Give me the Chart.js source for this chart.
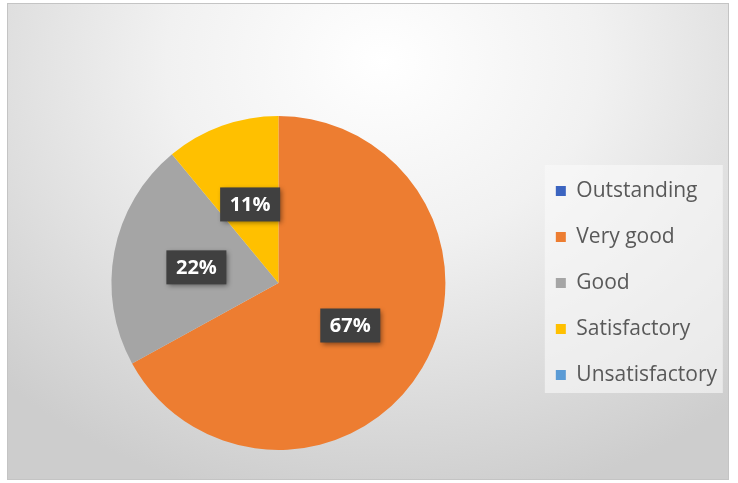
<!DOCTYPE html>
<html>
<head>
<meta charset="utf-8">
<script src="https://cdn.jsdelivr.net/npm/chart.js@4/dist/chart.umd.min.js"></script>
<style>
  html, body { margin: 0; padding: 0; background: #fff; }
  #wrap {
    position: absolute; left: 7px; top: 3px; width: 722px; height: 477px;
    border: 1px solid #c4c4c4; box-sizing: border-box;
    background: radial-gradient(ellipse 75% 95% at 52% 12%, #ffffff 0%, #f1f1f1 40%, #d9d9d9 80%, #cdcdcd 100%);
  }
  #wrap canvas { display: block; }
</style>
</head>
<body>
<div id="wrap"><canvas id="c"></canvas></div>
<script>
const categories = ['Outstanding', 'Very good', 'Good', 'Satisfactory', 'Unsatisfactory'];
const shares = [0, 67, 22, 11, 0];
const colors = ['#3b64c0', '#ed7d31', '#a5a5a5', '#ffc000', '#5b9bd5'];

// dark boxed percentage labels at mid radius
const boxLabels = {
  id: 'boxLabels',
  afterDatasetsDraw(chart) {
    const ctx = chart.ctx;
    const meta = chart.getDatasetMeta(0);
    meta.data.forEach((arc, i) => {
      const v = shares[i]; if (!v) return;
      const p = arc.tooltipPosition();
      const w = 60, h = 34;
      ctx.save();
      ctx.shadowColor = 'rgba(0,0,0,0.45)'; ctx.shadowBlur = 5; ctx.shadowOffsetX = 2; ctx.shadowOffsetY = 2;
      ctx.fillStyle = '#404040';
      ctx.fillRect(p.x - w / 2, p.y - h / 2, w, h);
      ctx.restore();
      ctx.save();
      ctx.fillStyle = '#ffffff'; ctx.font = 'bold 20px "Open Sans"';
      ctx.textAlign = 'center'; ctx.textBaseline = 'middle';
      ctx.fillText(v + '%', p.x, p.y + 1);
      ctx.restore();
    });
  }
};

// light panel behind the legend
const legendPanel = {
  id: 'legendPanel',
  beforeDraw(chart) {
    const lg = chart.legend; if (!lg || !lg.legendHitBoxes.length) return;
    const hb = lg.legendHitBoxes;
    const first = hb[0], last = hb[hb.length - 1];
    const top = first.top + first.height / 2 - 26;
    const bottom = last.top + last.height / 2 + 18;
    const left = first.left - 11;
    const ctx = chart.ctx;
    ctx.save();
    ctx.fillStyle = 'rgba(250,250,250,0.6)';
    ctx.fillRect(left, top, 178, bottom - top);
    ctx.restore();
  }
};

new Chart(document.getElementById('c'), {
  type: 'pie',
  data: {
    labels: categories,
    datasets: [{ data: shares, backgroundColor: colors, borderWidth: 0 }]
  },
  options: {
    responsive: true, maintainAspectRatio: false, animation: false,
    layout: { padding: { top: 112, bottom: 29, left: 18, right: 1 } },
    plugins: {
      tooltip: { enabled: false },
      legend: {
        position: 'right',
        labels: {
          color: '#595959', font: { size: 21, family: 'Open Sans' },
          boxWidth: 10, boxHeight: 10, padding: 25
        }
      }
    }
  },
  plugins: [boxLabels, legendPanel]
});
</script>
</body>
</html>
